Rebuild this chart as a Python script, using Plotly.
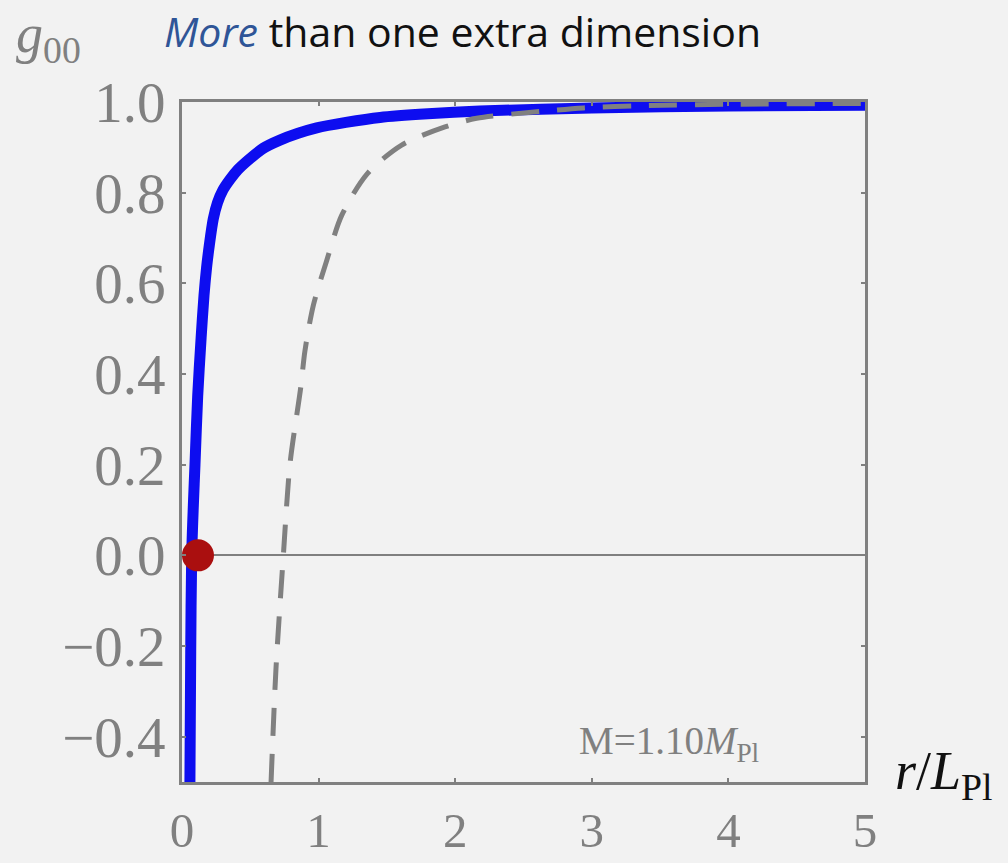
import plotly.graph_objects as go

# Data
r_blue = [0.058, 0.064, 0.071, 0.083, 0.095, 0.115, 0.14, 0.161, 0.18, 0.20, 0.229, 0.26,
          0.30, 0.351, 0.41, 0.47, 0.595, 0.717, 0.85, 0.986, 1.2, 1.45, 1.8, 2.18,
          3.0, 4.0, 5.0]
g_blue = [-0.5, -0.205, 0.0, 0.11, 0.2, 0.352, 0.48, 0.573, 0.635, 0.684, 0.742, 0.778,
          0.806, 0.829, 0.851, 0.868, 0.898, 0.916, 0.931, 0.943, 0.955, 0.966, 0.974, 0.980,
          0.987, 0.991, 0.993]

r_dash = [0.652, 0.688, 0.742, 0.79, 0.869, 0.900, 0.961, 1.059, 1.169, 1.357, 1.608,
          1.925, 2.157, 2.62, 2.94, 3.35, 4.0, 5.0]
g_dash = [-0.5, -0.25, 0.0, 0.2, 0.370, 0.451, 0.551, 0.650, 0.750, 0.842, 0.905,
          0.945, 0.964, 0.979, 0.987, 0.992, 0.995, 0.997]

dot_r = [0.117]
dot_g = [0.0]

x_ticks = [0, 1, 2, 3, 4, 5]
y_ticks = [-0.4, -0.2, 0.0, 0.2, 0.4, 0.6, 0.8, 1.0]
y_labels = ["\u22120.4", "\u22120.2", "0.0", "0.2", "0.4", "0.6", "0.8", "1.0"]

GRAY = "#808080"
BG = "#f2f2f2"

# plot-area geometry in pixels (page coordinates)
L, R, T, B = 182, 865, 102, 782
W, H = 1008, 863
PW, PH = R - L, B - T


def px(x):
    return (x - L) / PW


def py(y):
    return (B - y) / PH


fig = go.Figure()
fig.add_trace(go.Scatter(x=r_blue, y=g_blue, mode="lines",
                         line=dict(color="#0d0df0", width=11, shape="spline", smoothing=0.8),
                         hoverinfo="skip"))
fig.add_trace(go.Scatter(x=r_dash, y=g_dash, mode="lines",
                         line=dict(color=GRAY, width=5, dash="28px,18px", shape="spline", smoothing=0.8),
                         hoverinfo="skip"))
fig.add_trace(go.Scatter(x=dot_r, y=dot_g, mode="markers",
                         marker=dict(color="#aa0f0f", size=32, line=dict(width=0)),
                         hoverinfo="skip"))

axis_common = dict(showline=True, linecolor=GRAY, linewidth=3, mirror="ticks",
                   ticks="inside", ticklen=4, tickwidth=2, tickcolor=GRAY,
                   showgrid=False, automargin=False)

fig.update_xaxes(range=[0, 5], tickvals=x_ticks, ticktext=[str(v) for v in x_ticks],
                 zeroline=False, ticklabelstandoff=3,
                 tickfont=dict(family="Liberation Serif", size=49, color=GRAY), **axis_common)
fig.update_yaxes(range=[-0.5, 1.0], tickvals=y_ticks, ticktext=y_labels,
                 zeroline=True, zerolinecolor=GRAY, zerolinewidth=2,
                 ticklabelstandoff=2,
                 tickfont=dict(family="Liberation Serif", size=57, color=GRAY), **axis_common)

fig.update_layout(
    width=W, height=H,
    margin=dict(l=L, r=W - R, t=T, b=H - B),
    paper_bgcolor=BG, plot_bgcolor=BG,
    showlegend=False,
    annotations=[
        dict(text="<i><span style='color:#2f5597'>More</span></i> than one extra dimension",
             xref="paper", yref="paper", x=px(162), y=py(31),
             xanchor="left", yanchor="middle", showarrow=False,
             font=dict(family="Open Sans", size=41, color="#111111")),
        dict(text="<i>g</i><sub>00</sub>", xref="paper", yref="paper",
             x=px(14), y=py(38),
             xanchor="left", yanchor="middle", showarrow=False,
             font=dict(family="Liberation Serif", size=54, color=GRAY)),
        dict(text="<i>r</i>/<i>L</i><sub>Pl</sub>", xref="paper", yref="paper",
             x=px(893), y=py(774),
             xanchor="left", yanchor="middle", showarrow=False,
             font=dict(family="Liberation Serif", size=54, color="#111111")),
        dict(text="M=1.10<i>M</i><sub>Pl</sub>", xref="paper", yref="paper",
             x=px(577), y=py(743),
             xanchor="left", yanchor="middle", showarrow=False,
             font=dict(family="Liberation Serif", size=39, color=GRAY)),
    ],
)

fig.write_html("out.html", config={"displayModeBar": False},
               post_script="document.body.style.margin='0';document.body.style.background='%s';" % BG)
